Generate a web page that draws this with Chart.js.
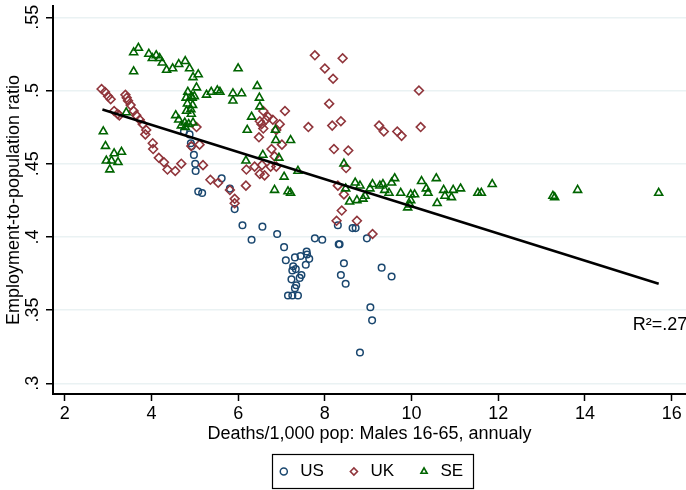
<!DOCTYPE html>
<html>
<head>
<meta charset="utf-8">
<script src="https://cdn.jsdelivr.net/npm/chart.js@4/dist/chart.umd.min.js"></script>
<style>
  html, body { margin: 0; padding: 0; background: #fff; }
  canvas { display: block; }
</style>
</head>
<body>
<canvas id="chart" width="686" height="490"></canvas>
<script>
// Male mortality (deaths per 1,000, ages 16-65) against employment-to-population ratio
const usX = [4.75,4.88,4.91,4.93,4.98,5.01,5.02,5.08,5.17,5.62,5.81,5.92,6.10,6.31,6.56,6.90,7.06,7.10,7.31,7.44,7.58,7.59,7.64,7.56,7.27,7.25,7.33,7.46,7.42,7.23,7.34,7.31,7.15,7.25,7.38,7.77,7.94,8.30,8.32,8.34,8.44,8.37,8.48,8.64,8.71,8.97,9.31,9.54,9.05,9.09,8.81];
const usY = [.472,.470,.464,.462,.456,.450,.445,.431,.430,.440,.433,.419,.408,.398,.407,.402,.393,.384,.386,.387,.390,.388,.385,.381,.380,.377,.378,.374,.372,.371,.367,.365,.360,.360,.360,.399,.398,.408,.395,.395,.382,.374,.368,.406,.406,.399,.379,.373,.352,.343,.321];

const ukX = [2.85,2.93,3.00,3.06,3.14,3.22,3.26,3.40,3.43,3.46,3.52,3.59,3.65,3.73,3.80,3.88,3.86,4.03,4.04,4.17,4.29,4.37,4.55,4.69,5.04,4.92,5.11,5.19,5.36,5.54,5.81,5.92,5.92,
             6.19,6.38,6.55,6.50,6.61,6.75,6.88,6.84,6.77,7.01,6.48,6.58,6.88,6.50,6.64,6.80,6.96,6.58,7.08,6.18,6.69,6.54,
             7.62,7.77,8.00,8.19,8.41,8.10,8.17,8.37,8.21,8.54,8.49,8.30,8.44,8.39,8.27,8.74,9.10,9.25,9.36,9.67,9.77,10.17,10.21];
const ukY = [.501,.499,.496,.494,.486,.484,.483,.497,.495,.493,.490,.486,.483,.480,.477,.473,.470,.464,.460,.454,.451,.446,.445,.450,.475,.462,.463,.449,.439,.437,.432,.426,.423,
             .446,.448,.449,.443,.442,.448,.448,.455,.460,.463,.468,.474,.473,.479,.480,.480,.477,.486,.486,.435,.482,.477,
             .475,.524,.515,.508,.522,.491,.476,.479,.460,.459,.447,.435,.429,.418,.411,.411,.402,.476,.472,.472,.469,.500,.475];

const seX = [2.89,2.94,3.14,3.31,2.96,3.08,3.23,3.04,3.42,3.59,
             3.70,3.59,3.94,4.02,4.11,4.19,4.25,4.35,4.49,4.63,
             4.78,4.88,4.96,5.08,5.04,4.84,4.80,4.92,4.99,4.94,
             5.27,5.38,4.83,4.95,4.91,4.81,4.92,4.56,4.63,4.77,
             4.96,4.86,4.69,4.78,5.52,5.58,5.88,5.88,6.08,6.00,
             6.44,6.49,6.50,6.31,6.21,6.86,6.87,7.21,6.57,6.94,
             6.18,7.06,7.38,6.84,7.15,7.21,8.44,8.70,8.81,8.48,
             8.57,8.74,8.88,8.93,9.04,9.10,9.27,9.34,9.38,9.54,
             9.61,9.48,9.75,9.98,10.07,9.98,9.96,9.91,10.23,10.57,
             10.34,10.38,10.59,10.74,10.77,10.96,10.92,11.13,11.53,11.61,
             11.86,13.26,13.30,13.83,15.70];
const seY = [.472,.462,.457,.458,.452,.452,.451,.446,.485,.526,
             .529,.513,.525,.522,.524,.522,.519,.514,.515,.518,
             .520,.515,.509,.511,.502,.499,.495,.496,.496,.495,
             .497,.499,.491,.490,.487,.486,.484,.483,.480,.478,
             .478,.477,.476,.475,.500,.499,.498,.493,.498,.515,
             .503,.495,.489,.482,.473,.473,.466,.466,.456,.454,
             .452,.441,.445,.432,.431,.430,.450,.437,.435,.433,
             .424,.425,.426,.428,.433,.436,.435,.436,.432,.437,
             .440,.430,.430,.429,.429,.425,.422,.420,.438,.440,
             .433,.430,.423,.432,.428,.432,.427,.433,.430,.430,
             .436,.428,.427,.432,.430];

// Linear fit across all three countries
const fitX = [2.87, 15.70];
const fitY = [.487, .368];
const r2Label = 'R²=.27';

const seriesNames = ['US', 'UK', 'SE'];
const xTickValues = [2, 4, 6, 8, 10, 12, 14, 16];
const xTickLabels = ['2', '4', '6', '8', '10', '12', '14', '16'];
const yTickValues = [.3, .35, .4, .45, .5, .55];
const yTickLabels = ['.3', '.35', '.4', '.45', '.5', '.55'];

const pts = (xs, ys) => xs.map((x, i) => ({ x, y: ys[i] }));

Chart.defaults.font.family = '"Liberation Sans", Arial, Helvetica, sans-serif';
Chart.defaults.color = '#000';

const r2Anchor = { x: 15.1, y: .340 };

const extras = {
  id: 'extras',
  afterDraw(chart) {
    const { ctx, scales: { x, y } } = chart;
    ctx.save();
    ctx.font = '18px "Liberation Sans", Arial, sans-serif';
    ctx.fillStyle = '#000';
    ctx.textAlign = 'left';
    ctx.textBaseline = 'middle';
    ctx.fillText(r2Label, x.getPixelForValue(r2Anchor.x), y.getPixelForValue(r2Anchor.y));

    // frame around the legend entries
    const hb = chart.legend && chart.legend.legendHitBoxes;
    if (hb && hb.length) {
      const first = hb[0], last = hb[hb.length - 1];
      const l = Math.round(first.left - 4), r = Math.round(last.left + last.width + 10);
      const t = Math.round(first.top - 9), b = Math.round(first.top + first.height + 8);
      ctx.strokeStyle = '#000';
      ctx.lineWidth = 1.2;
      ctx.strokeRect(l + .5, t + .5, r - l, b - t);
    }
    ctx.restore();
  }
};

new Chart(document.getElementById('chart'), {
  type: 'scatter',
  data: {
    datasets: [
      {
        label: seriesNames[0], data: pts(usX, usY), order: 3,
        pointStyle: 'circle', pointRadius: 3.3, borderWidth: 1.5,
        borderColor: '#1a476f', backgroundColor: 'rgba(0,0,0,0)'
      },
      {
        label: seriesNames[1], data: pts(ukX, ukY), order: 2,
        pointStyle: 'rectRot', pointRadius: 4.4, borderWidth: 1.6,
        borderColor: '#90353b', backgroundColor: 'rgba(0,0,0,0)'
      },
      {
        label: seriesNames[2], data: pts(seX, seY), order: 1,
        pointStyle: 'triangle', pointRadius: 4.6, borderWidth: 1.6,
        borderColor: '#006400', backgroundColor: 'rgba(0,0,0,0)'
      },
      {
        type: 'line', label: 'fit', data: pts(fitX, fitY), order: 0,
        borderColor: '#000', borderWidth: 2.5, pointRadius: 0, fill: false, showLine: true
      }
    ]
  },
  options: {
    responsive: false,
    animation: false,
    devicePixelRatio: 1,
    layout: { autoPadding: false, padding: { top: 6, left: 0, right: 0, bottom: 0 } },
    plugins: {
      tooltip: { enabled: false },
      legend: {
        position: 'bottom',
        fullSize: false,
        labels: {
          usePointStyle: true,
          boxWidth: 16,
          boxHeight: 5,
          padding: 22,
          color: '#000',
          font: { size: 17 },
          filter: item => item.datasetIndex < 3,
          sort: (a, b) => a.datasetIndex - b.datasetIndex
        }
      }
    },
    scales: {
      x: {
        type: 'linear',
        min: 1.73, max: 16.33,
        afterBuildTicks: s => { s.ticks = xTickValues.map(v => ({ value: v })); },
        afterFit: s => { s.height = 47; s.paddingLeft = 0; s.paddingRight = 0; },
        ticks: {
          callback: (v, i) => xTickLabels[i],
          autoSkip: false, maxRotation: 0, padding: 2,
          color: '#000', font: { size: 18 }
        },
        grid: { drawOnChartArea: false, tickLength: 7, tickColor: '#000', tickWidth: 1.5 },
        border: { color: '#000', width: 2 },
        title: {
          display: true, text: 'Deaths/1,000 pop: Males 16-65, annualy',
          color: '#000', font: { size: 18 }, padding: { top: 0, bottom: -4 }
        }
      },
      y: {
        type: 'linear',
        min: .2927, max: .5577,
        afterBuildTicks: s => { s.ticks = yTickValues.map(v => ({ value: v })); },
        afterFit: s => { s.width = 53; s.paddingTop = 0; s.paddingBottom = 0; },
        ticks: {
          callback: (v, i) => yTickLabels[i],
          autoSkip: false, minRotation: 90, maxRotation: 90,
          crossAlign: 'center', padding: 0,
          color: '#000', font: { size: 18 }
        },
        grid: { color: '#eaf2f3', lineWidth: 1.5, tickLength: 7, tickColor: '#000', tickWidth: 1.5 },
        border: { color: '#000', width: 2 },
        title: {
          display: true, text: 'Employment-to-population ratio',
          color: '#000', font: { size: 18 }, padding: { top: 3, bottom: 0 }
        }
      }
    }
  },
  plugins: [extras]
});
</script>
</body>
</html>
